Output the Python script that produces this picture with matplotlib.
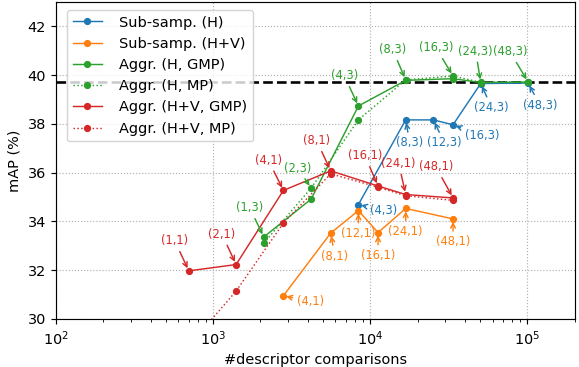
import matplotlib
matplotlib.use('Agg')
import matplotlib.pyplot as plt

# descriptor comparisons
x_h = [8400, 16800, 25200, 33600, 50400, 100800]
x_hv = [2800, 5600, 8400, 11200, 16800, 33600]
x_agg_h = [2100, 4200, 8400, 16800, 33600, 50400, 100800]
x_agg_hv = [700, 1400, 2800, 5600, 11200, 16800, 33600]

# mAP values
sub_h = [34.69, 38.16, 38.16, 37.96, 39.65, 39.67]
sub_hv = [30.95, 33.52, 34.44, 33.54, 34.53, 34.1]
agg_h_gmp = [33.36, 34.91, 38.73, 39.78, 39.85, 39.69, 39.71]
agg_h_mp = [33.11, 35.36, 38.16, 39.8, 39.96, 39.7, 39.72]
agg_hv_gmp = [31.97, 32.23, 35.27, 36.07, 35.45, 35.1, 34.96]
agg_hv_mp = [28.9, 31.14, 33.93, 35.95, 35.4, 35.05, 34.86]

lbl_h = ['(4,3)', '(8,3)', '(12,3)', '(16,3)', '(24,3)', '(48,3)']
lbl_hv = ['(4,1)', '(8,1)', '(12,1)', '(16,1)', '(24,1)', '(48,1)']
lbl_agg_h = ['(1,3)', '(2,3)', '(4,3)', '(8,3)', '(16,3)', '(24,3)', '(48,3)']
lbl_agg_hv = ['(1,1)', '(2,1)', '(4,1)', '(8,1)', '(16,1)', '(24,1)', '(48,1)']

baseline = 39.72

# label offsets (pixels, right / down)
off_h = [(25, 6), (4, 23), (11, 23), (29, 11), (11, 24), (12, 22)]
off_hv = [(27, 6), (4, 23), (0, 23), (0, 23), (0, 23), (0, 23)]
off_agg_h = [(-14, -29), (-13, -20), (-14, -30), (-13, -30), (-17, -28), (-5, -31), (-18, -30)]
off_agg_hv = [(-14, -30), (-14, -30), (-15, -30), (-14, -30), (-13, -30), (-7, -31), (-17, -31)]

DPI = 104
fig = plt.figure(figsize=(579/DPI, 367/DPI), dpi=DPI)
ax = fig.add_axes([0.0967, 0.131, 0.896, 0.864])

ms = 4
lw = 1.0
ax.plot(x_h, sub_h, '-o', color='tab:blue', ms=ms, lw=lw, label='Sub-samp. (H)')
ax.plot(x_hv, sub_hv, '-o', color='tab:orange', ms=ms, lw=lw, label='Sub-samp. (H+V)')
ax.plot(x_agg_h, agg_h_gmp, '-o', color='tab:green', ms=ms, lw=lw, label='Aggr. (H, GMP)')
ax.plot(x_agg_h, agg_h_mp, ':o', color='tab:green', ms=ms, lw=lw, label='Aggr. (H, MP)')
ax.plot(x_agg_hv, agg_hv_gmp, '-o', color='tab:red', ms=ms, lw=lw, label='Aggr. (H+V, GMP)')
ax.plot(x_agg_hv, agg_hv_mp, ':o', color='tab:red', ms=ms, lw=lw, label='Aggr. (H+V, MP)')

ax.axhline(baseline, color='black', ls='--', lw=1.8, zorder=1.5)

px2pt = 72.0 / DPI

def label_points(xs, ys, labels, offs, color):
    for x, y, t, (dx, dy) in zip(xs, ys, labels, offs):
        ax.annotate(t, xy=(x, y), xytext=(dx*px2pt, -dy*px2pt), textcoords='offset points',
                    ha='center', va='center', fontsize=8, color=color,
                    arrowprops=dict(arrowstyle='->', color=color, lw=1.0, shrinkA=1, shrinkB=2))

label_points(x_h, sub_h, lbl_h, off_h, 'tab:blue')
label_points(x_hv, sub_hv, lbl_hv, off_hv, 'tab:orange')
label_points(x_agg_h, [max(a, b) for a, b in zip(agg_h_gmp, agg_h_mp)], lbl_agg_h, off_agg_h, 'tab:green')
label_points(x_agg_hv, [max(a, b) for a, b in zip(agg_hv_gmp, agg_hv_mp)], lbl_agg_hv, off_agg_hv, 'tab:red')

ax.set_xscale('log')
ax.set_xlim(1e2, 2e5)
ax.set_ylim(30, 43)
ax.set_yticks([30, 32, 34, 36, 38, 40, 42])
ax.grid(True, which='major', ls=':', color='#b0b0b0', lw=0.8)
ax.set_xlabel('#descriptor comparisons')
ax.set_ylabel('mAP (%)')
ax.legend(loc='upper left', bbox_to_anchor=(0.021, 0.975), borderaxespad=0, handletextpad=1.2)

fig.savefig('out.png', dpi=DPI)
